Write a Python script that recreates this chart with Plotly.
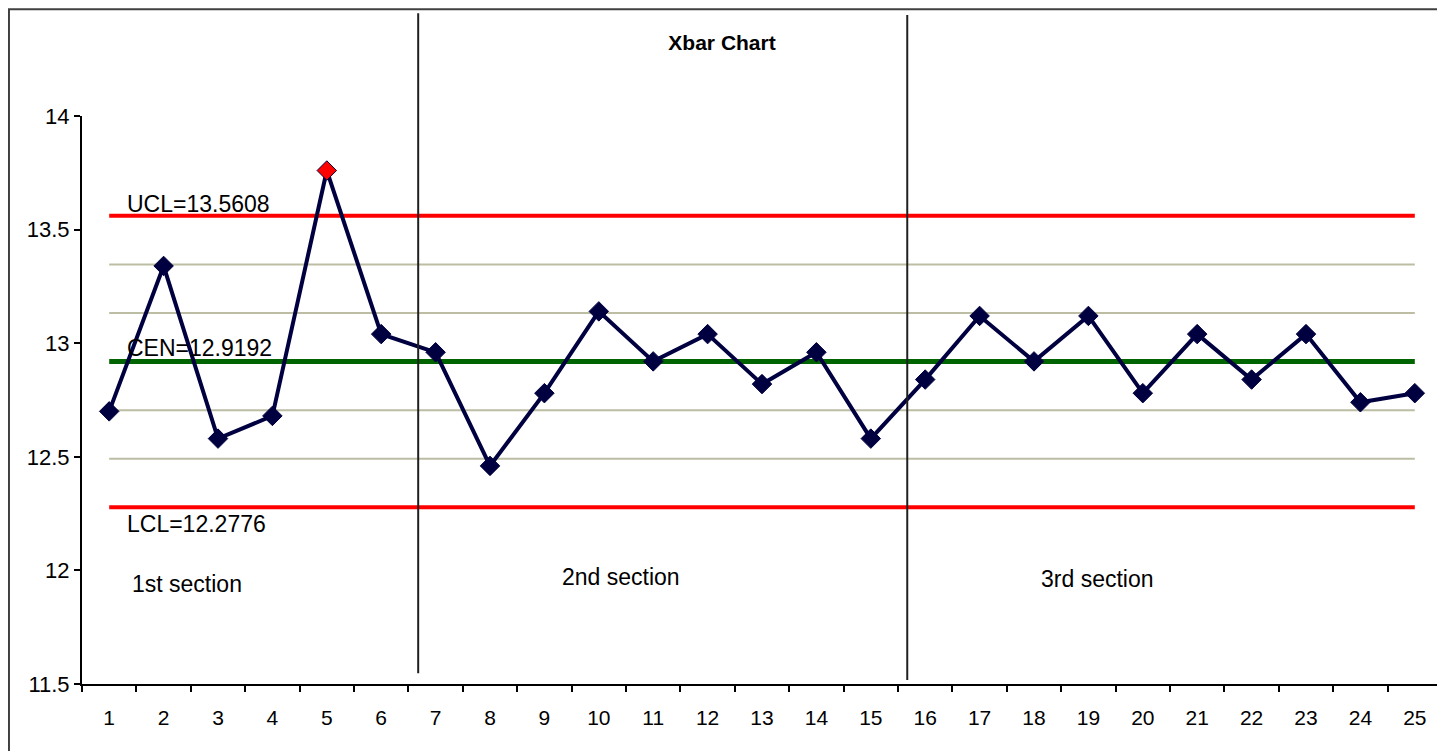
import plotly.graph_objects as go

# ---- data ----
samples = list(range(1, 26))
xbar = [12.70, 13.34, 12.58, 12.68, 13.76, 13.04, 12.96, 12.46, 12.78, 13.14,
        12.92, 13.04, 12.82, 12.96, 12.58, 12.84, 13.12, 12.92, 13.12, 12.78,
        13.04, 12.84, 13.04, 12.74, 12.78]
UCL = 13.5608
CEN = 12.9192
LCL = 12.2776
sigma_lines = [CEN + (UCL - CEN) / 3 * k for k in (-2, -1, 1, 2)]
section_bounds = [6.68, 15.67]
section_names = ["1st section", "2nd section", "3rd section"]
y_ticks = [11.5, 12, 12.5, 13, 13.5, 14]

FONT = "Liberation Sans, Arial, sans-serif"
NAVY = "#000040"

fig = go.Figure()
xs = [samples[0], samples[-1]]

for v in sigma_lines:
    fig.add_trace(go.Scatter(x=xs, y=[v, v], mode="lines",
                             line=dict(color="#BDBDA4", width=2),
                             hoverinfo="skip", showlegend=False))
for v, c, w in [(UCL, "#FF0000", 4), (LCL, "#FF0000", 4), (CEN, "#006400", 5)]:
    fig.add_trace(go.Scatter(x=xs, y=[v, v], mode="lines",
                             line=dict(color=c, width=w),
                             hoverinfo="skip", showlegend=False))

mcolors = ["#FF0000" if (v > UCL or v < LCL) else NAVY for v in xbar]
fig.add_trace(go.Scatter(x=samples, y=xbar, mode="lines+markers",
                         line=dict(color=NAVY, width=4),
                         marker=dict(symbol="diamond", size=15, color=mcolors,
                                     line=dict(color=NAVY, width=1)),
                         showlegend=False))

# control line labels
for txt, v, dy in [("UCL=%.4f" % UCL, UCL, 12), ("CEN=%.4f" % CEN, CEN, 14),
                   ("LCL=%.4f" % LCL, LCL, -17)]:
    fig.add_annotation(x=1.29, y=v, xref="x", yref="y", text=txt, showarrow=False,
                       xanchor="left", yanchor="middle", yshift=dy,
                       font=dict(family=FONT, size=23, color="#000000"))

# section labels
for name, sx, sy in zip(section_names, [2.43, 10.41, 19.16], [11.94, 11.97, 11.96]):
    fig.add_annotation(x=sx, y=sy, xref="x", yref="y", text=name, showarrow=False,
                       xanchor="center", yanchor="middle",
                       font=dict(family=FONT, size=23, color="#000000"))

# section boundaries
for b, (y0, y1) in zip(section_bounds, [(0.019, 1.181), (0.007, 1.178)]):
    fig.add_shape(type="line", xref="x", yref="paper", x0=b, x1=b, y0=y0, y1=y1,
                  line=dict(color="#202020", width=2))

# outer frame
fig.add_shape(type="rect", xref="paper", yref="paper", x0=-0.0537, x1=0.9985,
              y0=-0.2, y1=1.188, line=dict(color="#404040", width=2))

fig.update_layout(
    width=1437, height=743,
    margin=dict(l=74, r=3, t=108, b=67),
    paper_bgcolor="white", plot_bgcolor="white",
    title=dict(text="<b>Xbar Chart</b>", x=0.4969, xref="container", xanchor="center",
               y=1 - 35 / 743, yref="container", yanchor="middle",
               font=dict(family=FONT, size=21, color="#000000")),
    font=dict(family=FONT, color="#000000"),
)
fig.update_xaxes(range=[0.5, 25.5], tickvals=samples, ticktext=[str(s) for s in samples],
                 ticks="", showgrid=False, zeroline=False, showline=True,
                 linecolor="#000000", linewidth=2, ticklabelstandoff=14,
                 tickfont=dict(family=FONT, size=21, color="#000000"),
                 minor=dict(tickvals=[s + 0.5 for s in range(0, 26)], ticks="outside",
                            ticklen=6, tickwidth=2, tickcolor="#000000", showgrid=False))
fig.update_yaxes(range=[11.5, 14], tickvals=y_ticks, ticktext=[("%g" % v) for v in y_ticks],
                 ticks="outside", ticklen=6, tickwidth=2, tickcolor="#000000",
                 showgrid=False, zeroline=False, showline=True,
                 linecolor="#000000", linewidth=2, ticklabelstandoff=0,
                 tickfont=dict(family=FONT, size=22, color="#000000"))

fig.write_html("out.html")
